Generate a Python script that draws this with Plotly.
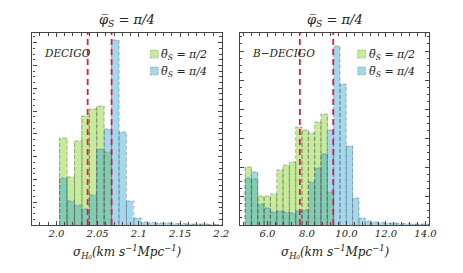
import plotly.graph_objects as go

# ---------------- data ----------------
# left panel: DECIGO
left_start = 2.004
left_width = 0.009
left_green = [87, 48, 84, 109, 116, 119, 73]
left_blue = [47, 24, 20, 16, 30, 76, 96, 185, 93, 24, 7, 3, 2.5, 2, 2, 1.5, 1.5, 1, 1, 1, 0.5, 0.5]
left_vlines = [2.038, 2.067]

# right panel: B-DECIGO
right_start = 4.87
right_width = 0.32
right_green = [58, 46, 29, 29, 31, 55, 60, 63, 98, 95, 92, 103, 111, 33]
right_blue = [47, 53, 21, 17, 13, 14, 13, 12, 14, 15, 43, 57, 71, 95, 179, 141, 79, 27, 7, 4,
              3, 2.5, 2, 2, 1.5, 1.5, 1, 1, 1, 0.5, 0.5]
right_vlines = [7.64, 9.33]

left_ticks = [2.0, 2.05, 2.1, 2.15, 2.2]
left_ticklabels = ["2.0", "2.05", "2.1", "2.15", "2.2"]
right_ticks = [6, 8, 10, 12, 14]
right_ticklabels = ["6.0", "8.0", "10.0", "12.0", "14.0"]

title_text = "<i>φ̅<sub>S</sub> = π/4</i>"
xlabel_text = "<i>σ<sub>H₀</sub>(km s<sup>−1</sup>Mpc<sup>−1</sup>)</i>"
leg_green = "<i>θ̅<sub>S</sub> = π/2</i>"
leg_blue = "<i>θ̅<sub>S</sub> = π/4</i>"

GREEN = "rgba(141,215,55,0.5)"
BLUE = "rgba(28,157,212,0.4)"
EDGE = "rgba(90,90,90,0.6)"
RED = "#d81b4a"
FONT = "DejaVu Serif"

W, H = 463, 273
fig = go.Figure()


def centers(start, width, n):
    return [start + width * (i + 0.5) for i in range(n)]


def outline(start, width, vals):
    xs, ys = [], []
    for i, v in enumerate(vals):
        l = start + width * i
        r = l + width
        xs += [l, l, r, r, None]
        ys += [0, v, v, 0, None]
    return xs, ys


panels = [
    (left_start, left_width, left_green, left_blue, "x", "y"),
    (right_start, right_width, right_green, right_blue, "x2", "y2"),
]
for start, width, g, b, xa, ya in panels:
    fig.add_trace(go.Bar(x=centers(start, width, len(g)), y=g, width=width,
                         marker=dict(color=GREEN, line=dict(width=0)),
                         name=leg_green, xaxis=xa, yaxis=ya, showlegend=False))
    fig.add_trace(go.Bar(x=centers(start, width, len(b)), y=b, width=width,
                         marker=dict(color=BLUE, line=dict(width=0)),
                         name=leg_blue, xaxis=xa, yaxis=ya, showlegend=False))
    for vals in (g, b):
        ox, oy = outline(start, width, vals)
        fig.add_trace(go.Scatter(x=ox, y=oy, mode="lines",
                                 line=dict(color=EDGE, width=0.8, dash="4px,2px"),
                                 showlegend=False, hoverinfo="skip",
                                 xaxis=xa, yaxis=ya))

for xv in left_vlines:
    fig.add_shape(type="line", xref="x", yref="y domain", x0=xv, x1=xv, y0=0, y1=1,
                  line=dict(color=RED, width=1.8, dash="6px,4px"))
for xv in right_vlines:
    fig.add_shape(type="line", xref="x2", yref="y2 domain", x0=xv, x1=xv, y0=0, y1=1,
                  line=dict(color=RED, width=1.8, dash="6px,4px"))

ydom = [1 - 225 / H, 1 - 33 / H]
x1dom = [33 / W, 226 / W]
x2dom = [244 / W, 437 / W]

axis_common = dict(showline=True, linecolor="#444", linewidth=1.3, mirror="allticks",
                   ticks="inside", ticklen=4, tickcolor="#444", tickwidth=1,
                   showgrid=False, zeroline=False)

fig.update_layout(
    width=W, height=H, margin=dict(l=0, r=0, t=0, b=0),
    plot_bgcolor="white", paper_bgcolor="white",
    barmode="overlay", bargap=0, showlegend=False,
    font=dict(family=FONT, color="#222"),
    xaxis=dict(domain=x1dom, range=[1.971, 2.201], tickvals=left_ticks,
               ticktext=["<i>%s</i>" % t for t in left_ticklabels],
               tickfont=dict(size=10, family=FONT), ticklabelstandoff=-1,
               minor=dict(ticks="inside", ticklen=2.5, dtick=0.01, tick0=2.0, tickcolor="#444"),
               anchor="y", **axis_common),
    yaxis=dict(domain=ydom, range=[0, 192], dtick=22.8, tick0=0, showticklabels=False,
               minor=dict(ticks="inside", ticklen=2.5, dtick=5.7, tick0=0, tickcolor="#444"),
               anchor="x", **axis_common),
    xaxis2=dict(domain=x2dom, range=[4.6, 14.2], tickvals=right_ticks,
                ticktext=["<i>%s</i>" % t for t in right_ticklabels],
                tickfont=dict(size=10, family=FONT), ticklabelstandoff=-1,
                minor=dict(ticks="inside", ticklen=2.5, dtick=0.4, tick0=6, tickcolor="#444"),
                anchor="y2", **axis_common),
    yaxis2=dict(domain=ydom, range=[0, 192], dtick=29, tick0=0, showticklabels=False,
                minor=dict(ticks="inside", ticklen=2.5, dtick=7.25, tick0=0, tickcolor="#444"),
                anchor="x2", **axis_common),
)

annos = [
    dict(x=(x1dom[0] + x1dom[1]) / 2, y=1 - 21 / H, text=title_text, font=dict(size=13),
         xanchor="center"),
    dict(x=(x2dom[0] + x2dom[1]) / 2, y=1 - 21 / H, text=title_text, font=dict(size=13),
         xanchor="center"),
    dict(x=130 / W, y=1 - 252 / H, text=xlabel_text, font=dict(size=12), xanchor="center"),
    dict(x=341 / W, y=1 - 252 / H, text=xlabel_text, font=dict(size=12), xanchor="center"),
    dict(x=43 / W, y=1 - 53 / H, text="<i>DECIGO</i>", font=dict(size=10.5), xanchor="left"),
    dict(x=254 / W, y=1 - 53 / H, text="<i>B−DECIGO</i>", font=dict(size=10.5), xanchor="left"),
]
# manual legends
for lx in (153, 364):
    for yc, col, txt in ((54, GREEN, leg_green), (71, BLUE, leg_blue)):
        fig.add_shape(type="rect", xref="paper", yref="paper",
                      x0=lx / W, x1=(lx + 8) / W, y0=1 - (yc + 4) / H, y1=1 - (yc - 4) / H,
                      fillcolor=col, line=dict(color=EDGE, width=0.6, dash="2px,1px"))
        annos.append(dict(x=(lx + 9) / W, y=1 - (yc + 1.5) / H, text=txt, font=dict(size=11),
                          xanchor="left"))

for a in annos:
    fig.add_annotation(xref="paper", yref="paper", showarrow=False,
                       yanchor="middle", **a)

fig.write_html("out.html", config={"displayModeBar": False},
               post_script="document.body.style.margin='0';")
